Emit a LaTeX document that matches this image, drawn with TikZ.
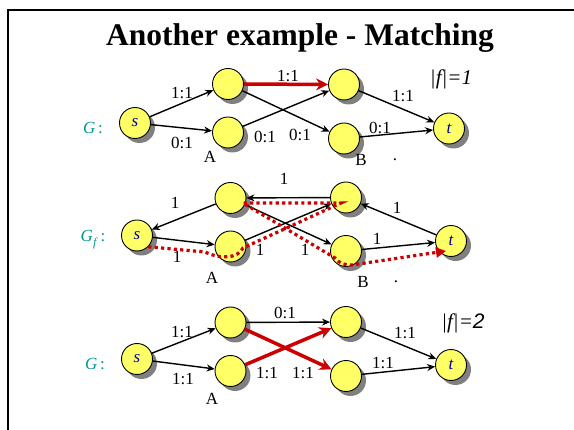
\documentclass[tikz,border=0pt]{standalone}
\usepackage{fontspec}
\setmainfont{Liberation Serif}
\newfontfamily\sansf{Liberation Sans}
\usetikzlibrary{arrows.meta,shadows}
\definecolor{ylw}{RGB}{255,255,102}
\definecolor{myred}{RGB}{204,0,0}
\definecolor{tealc}{RGB}{0,150,150}
\definecolor{dblue}{RGB}{0,0,160}
\tikzset{
  vert/.style={circle, draw=black, line width=0.9pt, fill=ylw, minimum size=31pt, inner sep=0pt,
    drop shadow={shadow xshift=4.5pt, shadow yshift=-4.5pt, fill=black!50, opacity=1},
    font=\fontsize{17}{20}\selectfont\itshape, text=dblue},
  edge/.style={line width=1.4pt, -{Stealth[length=8pt,width=7pt]}},
  redge/.style={line width=3.5pt, draw=myred, -{Stealth[length=12pt,width=12pt]}},
  rdot/.style={line width=3.2pt, draw=myred, dash pattern=on 3.2pt off 3.2pt, -{Triangle[length=10pt,width=10pt]}},
  lbl/.style={font=\fontsize{17}{20}\selectfont, inner sep=0pt},
  glbl/.style={font=\fontsize{17}{20}\selectfont, text=tealc, inner sep=0pt},
  flbl/.style={font=\fontsize{21}{24}\selectfont\itshape, inner sep=0pt},
}
\begin{document}
\begin{tikzpicture}[x=1pt,y=-1pt]
\useasboundingbox (0,0) rectangle (574,430);
\fill[white] (0,0) rectangle (574,430);
\draw[line width=2pt] (8,430) -- (8,10) -- (574,10);
\node[font=\fontsize{31.5}{36}\selectfont\bfseries] (title) at (300,38) {Another example - Matching};

% ---------- top graph ----------
\node[vert] (s1) at (135,123) {s};
\node[vert] (ul1) at (228,84) {};
\node[vert] (a1) at (228,132.5) {};
\node[vert] (ur1) at (344,84.5) {};
\node[vert] (b1) at (344,138.5) {};
\node[vert] (t1) at (449,128.5) {t};
\draw[edge] (s1) -- (ul1);
\draw[edge] (s1) -- (a1);
\draw[edge] (a1) -- (ur1);
\draw[edge] (ul1) -- (b1);
\draw[edge] (ur1) -- (t1);
\draw[edge] (b1) -- (t1);
\draw[redge] (ul1) -- (ur1);
\node[glbl] (g1) at (93,128) {\textit{G}\,:};
\node[lbl] (l11) at (182,93) {1:1};
\node[lbl] (l12) at (182,143) {0:1};
\node[lbl] (l13) at (288,76) {1:1};
\node[lbl] (l14) at (265,137) {0:1};
\node[lbl] (l15) at (300,135) {0:1};
\node[lbl] (l16) at (403,96) {1:1};
\node[lbl] (l17) at (380,128) {0:1};
\node[lbl] (A1) at (210,157) {A};
\node[lbl] (B1) at (361,160) {B};
\node[lbl] (d1) at (395,160) {.};
\node[flbl] (f1) at (451,79) {|f|=1};

% ---------- residual graph ----------
\node[vert] (s2) at (137,235.5) {s};
\node[vert] (ul2) at (230.5,198) {};
\node[vert] (a2) at (230.5,246.5) {};
\node[vert] (ur2) at (346,197.5) {};
\node[vert] (b2) at (346,251) {};
\node[vert] (t2) at (451,241) {t};
\draw[edge] (ul2) -- (s2);
\draw[edge] (s2) -- (a2);
\draw[edge] (a2) -- (ur2);
\draw[edge] (ur2) -- (ul2);
\draw[edge] (ul2) -- (b2);
\draw[edge] (b2) -- (t2);
\draw[edge] (t2) -- (ur2);
\coordinate (p1) at (205,252);
\coordinate (p2) at (243,248);
\coordinate (p3) at (341,203);
\coordinate (p4) at (243,203);
\coordinate (p5) at (335,258);
\coordinate (p6) at (352,265);
\coordinate (p7) at (446,251);
\draw[rdot] (s2.south east) -- (p1) .. controls (222,260) and (238,258) .. (p2) -- (p3) -- (p4) -- (p5) .. controls (340,264) and (345,265) .. (p6) -- (p7);
\node[glbl] (g2) at (93,240) {\textit{G}\raisebox{-5pt}{\fontsize{12}{12}\selectfont\textit{f}}\,:};
\node[lbl] (l21) at (175,203) {1};
\node[lbl] (l22) at (177,257) {1};
\node[lbl] (l23) at (284,179) {1};
\node[lbl] (l24) at (260,250) {1};
\node[lbl] (l25) at (305,250) {1};
\node[lbl] (l26) at (377,239) {1};
\node[lbl] (l27) at (397,208) {1};
\node[lbl] (A2) at (212,278) {A};
\node[lbl] (B2) at (363,282) {B};
\node[lbl] (d2) at (396,282) {.};

% ---------- bottom graph ----------
\node[vert] (s3) at (137,359) {s};
\node[vert] (ul3) at (230.5,322.5) {};
\node[vert] (a3) at (230.5,371) {};
\node[vert] (ur3) at (346,322) {};
\node[vert] (lr3) at (346,376) {};
\node[vert] (t3) at (451,365) {t};
\draw[edge] (s3) -- (ul3);
\draw[edge] (s3) -- (a3);
\draw[edge] (ul3) -- (ur3);
\draw[edge] (ur3) -- (t3);
\draw[edge] (lr3) -- (t3);
\draw[redge] (ul3) -- (lr3);
\draw[redge] (a3) -- (ur3);
\node[glbl] (g3) at (95,364) {\textit{G}\,:};
\node[lbl] (l31) at (182,332) {1:1};
\node[lbl] (l32) at (183,379) {1:1};
\node[lbl] (l33) at (285,313) {0:1};
\node[lbl] (l34) at (267,373) {1:1};
\node[lbl] (l35) at (303,373) {1:1};
\node[lbl] (l36) at (405,333) {1:1};
\node[lbl] (l37) at (383,363) {1:1};
\node[lbl] (A3) at (212,399) {A};
\node[flbl] (f3) at (463,323) {|f|={\sansf 2}};
\end{tikzpicture}
\end{document}
